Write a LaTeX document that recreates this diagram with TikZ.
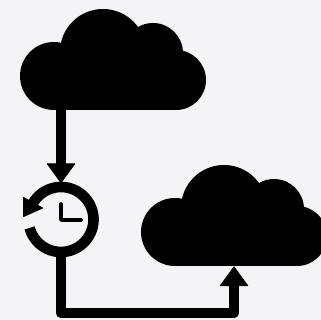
\documentclass[tikz,border=0pt]{standalone}
\usetikzlibrary{arrows.meta}
\definecolor{bgc}{HTML}{F4F4F6}
\tikzset{
  x=1pt,y=1pt,
  flowline/.style={line width=10.6pt,line join=round,black},
  headed/.style={flowline,-{Triangle[width=29pt,length=20pt,line width=1pt,round]}},
  handline/.style={line width=3.6pt,line cap=round,line join=round,black},
  cloudicon/.pic={
    \fill[black] (54,244) circle[radius=34];
    \fill[black] (103,268) circle[radius=43];
    \fill[black] (153,267) circle[radius=30];
    \fill[black] (176,240) circle[radius=30];
    \fill[black] (54,210) rectangle (176,262);
  }
}
\begin{document}
\begin{tikzpicture}
\useasboundingbox (0,0) rectangle (321,320);
\fill[bgc] (0,0) rectangle (321,320);
\clip (0,0) rectangle (321,320);
\pic at (0,0) {cloudicon};
\pic at (121,-156) {cloudicon};
\coordinate (cloudAout) at (61,212);
\coordinate (clockIn) at (61,137);
\coordinate (clock) at (61,100.5);
\coordinate (clockOut) at (61,64);
\coordinate (corner) at (61,7);
\coordinate (elbow) at (234,7);
\coordinate (cloudBin) at (234,53.5);
% connectors
\draw[headed] (cloudAout) -- (clockIn);
\draw[headed] (clockOut) -- (corner) -- (elbow) -- (cloudBin);
% clock
\draw[line width=10.6pt,black] (clock) ++(195:32.5) arc[start angle=195,end angle=509,radius=32.5];
\fill[black,draw=black,line width=1pt,line join=round] (23.5,122.5) -- (23.5,103.5) -- (42.5,112) -- cycle;
\coordinate (handTop) at (61,116);
\coordinate (handEnd) at (81,100);
\draw[handline] (handTop) -- (61,100) -- (handEnd);
\end{tikzpicture}
\end{document}
